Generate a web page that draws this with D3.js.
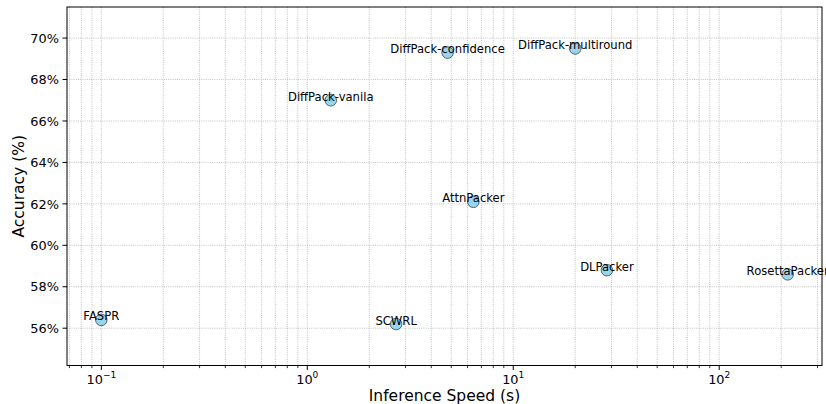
<!DOCTYPE html>
<html>
<head>
<meta charset="utf-8">
<script src="https://cdn.jsdelivr.net/npm/d3@7"></script>
<style>
  html, body { margin: 0; padding: 0; background: #fff; }
  svg { display: block; font-family: "DejaVu Sans", sans-serif; }
</style>
</head>
<body>
<svg id="chart" width="826" height="404"></svg>
<script>
// ---- data ----
const methods = ["FASPR", "SCWRL", "DiffPack-vanila", "DiffPack-confidence", "AttnPacker", "DiffPack-multiround", "DLPacker", "RosettaPacker"];
const speeds = [0.1, 2.7, 1.3, 4.8, 6.4, 20, 28.5, 215];
const accuracies = [56.4, 56.2, 67.0, 69.3, 62.1, 69.5, 58.8, 58.6];
const yTicks = [56, 58, 60, 62, 64, 66, 68, 70];
const xMajorExps = [-1, 0, 1, 2];

const svg = d3.select("#chart");
const m = { left: 67, right: 822, top: 7, bottom: 365.5 };

const lmin = Math.log10(d3.min(speeds)), lmax = Math.log10(d3.max(speeds));
const pad = (lmax - lmin) * 0.05;
const x = d3.scaleLog().domain([Math.pow(10, lmin - pad), Math.pow(10, lmax + pad)]).range([m.left, m.right]);
const y = d3.scaleLinear().domain([d3.min(accuracies) - 2, d3.max(accuracies) + 2]).range([m.bottom, m.top]);

// minor / major x tick values
const [x0, x1] = x.domain();
const xMinor = [];
for (let e = -3; e <= 3; e++) {
  for (let k = 2; k <= 9; k++) {
    const v = k * Math.pow(10, e);
    if (v >= x0 && v <= x1) xMinor.push(v);
  }
}
const xMajor = xMajorExps.map(e => Math.pow(10, e));

// grid
const grid = svg.append("g").attr("stroke", "#a8a8a8").attr("stroke-width", 0.7).attr("stroke-dasharray", "1,1.2");
grid.selectAll("line.xg").data(xMajor.concat(xMinor)).enter().append("line")
  .attr("x1", d => x(d)).attr("x2", d => x(d)).attr("y1", m.top).attr("y2", m.bottom);
grid.selectAll("line.yg").data(yTicks).enter().append("line")
  .attr("x1", m.left).attr("x2", m.right).attr("y1", d => y(d)).attr("y2", d => y(d));

// points
svg.append("g").selectAll("circle").data(speeds).enter().append("circle")
  .attr("cx", d => x(d)).attr("cy", (d, i) => y(accuracies[i])).attr("r", 5.8)
  .attr("fill", "#87ceeb").attr("fill-opacity", 0.85)
  .attr("stroke", "#000").attr("stroke-opacity", 0.7).attr("stroke-width", 0.8);

// labels
svg.append("g").selectAll("text").data(methods).enter().append("text")
  .attr("x", (d, i) => x(speeds[i])).attr("y", (d, i) => y(accuracies[i]) + 0.5)
  .attr("text-anchor", "middle").attr("font-size", 11.6).attr("fill", "#000")
  .text(d => d);

// spines
svg.append("rect").attr("x", m.left).attr("y", m.top).attr("width", m.right - m.left).attr("height", m.bottom - m.top)
  .attr("fill", "none").attr("stroke", "#000").attr("stroke-width", 1);

// x ticks
const xt = svg.append("g");
xt.selectAll("line.maj").data(xMajor).enter().append("line")
  .attr("x1", d => x(d)).attr("x2", d => x(d)).attr("y1", m.bottom).attr("y2", m.bottom + 4.5)
  .attr("stroke", "#000").attr("stroke-width", 1);
xt.selectAll("line.min").data(xMinor).enter().append("line")
  .attr("x1", d => x(d)).attr("x2", d => x(d)).attr("y1", m.bottom).attr("y2", m.bottom + 2.6)
  .attr("stroke", "#000").attr("stroke-width", 0.8);
const xl = xt.selectAll("text").data(xMajorExps).enter().append("text")
  .attr("x", d => x(Math.pow(10, d))).attr("y", 383.5)
  .attr("text-anchor", "middle").attr("font-size", 12.9).attr("fill", "#000");
xl.append("tspan").text("10");
xl.append("tspan").attr("font-size", 9).attr("dy", -5.5).text(d => d < 0 ? "\u2212" + Math.abs(d) : String(d));

// y ticks
const yt = svg.append("g");
yt.selectAll("line").data(yTicks).enter().append("line")
  .attr("x1", m.left - 4.5).attr("x2", m.left).attr("y1", d => y(d)).attr("y2", d => y(d))
  .attr("stroke", "#000").attr("stroke-width", 1);
yt.selectAll("text").data(yTicks).enter().append("text")
  .attr("x", m.left - 8).attr("y", d => y(d)).attr("dy", "0.36em")
  .attr("text-anchor", "end").attr("font-size", 12.9).attr("fill", "#000")
  .text(d => d + "%");

// axis titles
svg.append("text").attr("x", (m.left + m.right) / 2).attr("y", 400.5)
  .attr("text-anchor", "middle").attr("font-size", 15.5).attr("fill", "#000")
  .text("Inference Speed (s)");
svg.append("text").attr("transform", `translate(24,${(m.top + m.bottom) / 2}) rotate(-90)`)
  .attr("text-anchor", "middle").attr("font-size", 15.5).attr("fill", "#000")
  .text("Accuracy (%)");
</script>
</body>
</html>
